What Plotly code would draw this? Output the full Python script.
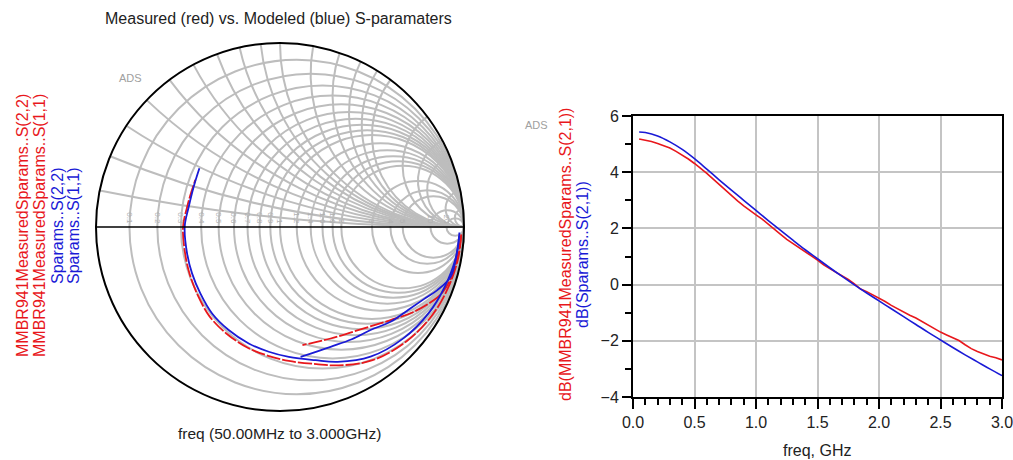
import numpy as np
import plotly.graph_objects as go

W, H = 1013, 460
FONT = "Liberation Sans, Arial, sans-serif"

# ---------------- Smith chart data (reflection coefficients, real / imag) ----------------
s11_model_re = [0.974, 0.955, 0.895, 0.808, 0.672, 0.492, 0.313, 0.193, 0.048, -0.061, -0.170,
                -0.279, -0.369, -0.433, -0.478, -0.505, -0.518, -0.496, -0.469, -0.438]
s11_model_im = [-0.049, -0.169, -0.326, -0.468, -0.604, -0.705, -0.733, -0.724, -0.706, -0.678, -0.633,
                -0.560, -0.470, -0.361, -0.252, -0.143, 0.002, 0.110, 0.219, 0.319]

s11_meas_re = [0.985, 0.968, 0.912, 0.826, 0.688, 0.503, 0.320, 0.197, 0.048, -0.064, -0.178,
               -0.290, -0.382, -0.446, -0.490, -0.515, -0.527, -0.505, -0.482, -0.460]
s11_meas_im = [-0.040, -0.172, -0.334, -0.481, -0.621, -0.724, -0.752, -0.745, -0.728, -0.700, -0.655,
               -0.580, -0.487, -0.373, -0.259, -0.148, 0.000, 0.108, 0.190, 0.256]

s22_model_re = [0.975, 0.964, 0.928, 0.855, 0.782, 0.700, 0.601, 0.492, 0.390, 0.275, 0.112]
s22_model_im = [-0.030, -0.125, -0.270, -0.343, -0.392, -0.448, -0.515, -0.560, -0.610, -0.651, -0.706]

s22_meas_re = [0.985, 0.968, 0.930, 0.884, 0.837, 0.728, 0.601, 0.456, 0.275, 0.122]
s22_meas_im = [-0.045, -0.150, -0.277, -0.354, -0.397, -0.461, -0.506, -0.551, -0.606, -0.642]

smith_ticks = [0.1, 0.2, 0.3, 0.4, 0.5, 0.6, 0.7, 0.8, 0.9, 1.0, 1.2, 1.4, 1.6, 1.8, 2.0,
               3.0, 4.0, 5.0, 10, 20]

# ---------------- S21 (dB) data ----------------
freq_meas = [0.05, 0.10, 0.15, 0.20, 0.25, 0.30, 0.35, 0.40, 0.45, 0.50,
             0.55, 0.60, 0.65, 0.70, 0.75, 0.80, 0.85, 0.90, 0.95, 1.00,
             1.05, 1.10, 1.15, 1.20, 1.25, 1.30, 1.35, 1.40, 1.45, 1.50,
             1.55, 1.60, 1.65, 1.70, 1.75, 1.80, 1.85, 1.90, 1.95, 2.00,
             2.05, 2.10, 2.15, 2.20, 2.25, 2.30, 2.35, 2.40, 2.45, 2.50,
             2.55, 2.60, 2.65, 2.70, 2.75, 2.80, 2.85, 2.90, 2.95, 3.00]
s21_meas_db = [5.18, 5.14, 5.09, 5.02, 4.95, 4.86, 4.74, 4.61, 4.47, 4.31,
               4.14, 3.96, 3.76, 3.56, 3.37, 3.16, 2.98, 2.80, 2.63, 2.48,
               2.33, 2.14, 1.98, 1.79, 1.61, 1.47, 1.30, 1.16, 1.02, 0.87,
               0.70, 0.57, 0.45, 0.33, 0.18, 0.03, -0.16, -0.25, -0.36, -0.47,
               -0.60, -0.74, -0.86, -0.97, -1.09, -1.19, -1.32, -1.45, -1.55, -1.69,
               -1.79, -1.90, -1.99, -2.14, -2.28, -2.38, -2.47, -2.55, -2.60, -2.68]

freq_model = [0.05, 0.1, 0.2, 0.3, 0.4, 0.5, 0.6, 0.7, 0.8, 0.9, 1.0,
              1.1, 1.2, 1.3, 1.4, 1.5, 1.6, 1.7, 1.8, 1.9, 2.0,
              2.1, 2.2, 2.3, 2.4, 2.5, 2.6, 2.7, 2.8, 2.9, 3.0]
s21_model_db = [5.43, 5.41, 5.29, 5.08, 4.81, 4.48, 4.11, 3.73, 3.36, 3.00, 2.64,
                2.28, 1.93, 1.58, 1.24, 0.92, 0.60, 0.29, -0.01, -0.30, -0.58,
                -0.86, -1.14, -1.42, -1.70, -1.97, -2.24, -2.50, -2.75, -3.00, -3.24]

RED = "#e8171c"
BLUE = "#1a1ad6"


def gamma_to_z(re, im):
    g = np.array(re) + 1j * np.array(im)
    z = (1 + g) / (1 - g)
    return z.real, z.imag


fig = go.Figure()

for re, im, col, dash in [
    (s11_meas_re, s11_meas_im, RED, "14px,2px"),
    (s22_meas_re, s22_meas_im, RED, "14px,2px"),
    (s11_model_re, s11_model_im, BLUE, "solid"),
    (s22_model_re, s22_model_im, BLUE, "solid"),
]:
    zr, zi = gamma_to_z(re, im)
    fig.add_trace(go.Scattersmith(real=zr, imag=zi, mode="lines",
                                  line=dict(color=col, width=1.8, dash=dash, shape="spline"),
                                  showlegend=False, hoverinfo="skip"))

fig.add_trace(go.Scatter(x=freq_meas, y=s21_meas_db, mode="lines",
                         line=dict(color=RED, width=1.6), showlegend=False,
                         xaxis="x", yaxis="y"))
fig.add_trace(go.Scatter(x=freq_model, y=s21_model_db, mode="lines",
                         line=dict(color=BLUE, width=1.6, shape="spline"), showlegend=False,
                         xaxis="x", yaxis="y"))


def px_x(p):
    return p / W


def px_y(p):
    return 1 - p / H


GRID = "#bdbdbd"
fig.update_layout(
    width=W, height=H,
    margin=dict(l=0, r=0, t=0, b=0, autoexpand=False),
    showlegend=False,
    paper_bgcolor="white",
    plot_bgcolor="white",
    font=dict(family=FONT, color="#222222"),
    smith=dict(
        domain=dict(x=[px_x(96), px_x(464)], y=[px_y(411), px_y(43)]),
        bgcolor="white",
        realaxis=dict(tickvals=smith_ticks, gridcolor=GRID, gridwidth=1.5,
                      linecolor="black", linewidth=1.5, showticklabels=True,
                      side="top", tickangle=90, ticks="",
                      tickfont=dict(size=8, color="#b0b0b0", family=FONT)),
        imaginaryaxis=dict(tickvals=smith_ticks, gridcolor=GRID, gridwidth=1.5,
                           linecolor="black", linewidth=2, showticklabels=False,
                           ticks=""),
    ),
    xaxis=dict(domain=[px_x(633), px_x(1002)], range=[0, 3], dtick=0.5, tick0=0,
               tickformat=".1f", showgrid=True, gridcolor="#c4c4c4", gridwidth=2,
               showline=True, linecolor="black", linewidth=2, mirror=True,
               ticks="outside", ticklen=10, tickwidth=1.5, tickcolor="black",
               minor=dict(dtick=0.1, ticks="outside", ticklen=6, tickwidth=1.5,
                          tickcolor="black", showgrid=False),
               tickfont=dict(size=16, family=FONT, color="#222222"),
               ticklabeloverflow="allow", automargin=False,
               zeroline=False, anchor="y"),
    yaxis=dict(domain=[px_y(397), px_y(116)], range=[-4, 6], dtick=2, tick0=0,
               showgrid=True, gridcolor="#c4c4c4", gridwidth=2,
               showline=True, linecolor="black", linewidth=2, mirror=True,
               ticks="outside", ticklen=9, tickwidth=1.5, tickcolor="black",
               minor=dict(dtick=1, ticks="outside", ticklen=6, tickwidth=1.5,
                          tickcolor="black", showgrid=False),
               tickfont=dict(size=16, family=FONT, color="#222222"),
               ticklabeloverflow="allow", automargin=False,
               zeroline=False, anchor="x"),
)

ann = []
ann.append(dict(x=px_x(278), y=px_y(19), text="Measured (red) vs. Modeled (blue) S-paramaters",
                font=dict(size=16, color="#222222", family=FONT)))
ann.append(dict(x=px_x(279), y=px_y(433), text="freq (50.00MHz to 3.000GHz)",
                font=dict(size=15.5, color="#222222", family=FONT)))
ann.append(dict(x=px_x(130), y=px_y(78), text="ADS",
                font=dict(size=11, color="#a0a0a0", family=FONT)))
ann.append(dict(x=px_x(536), y=px_y(125), text="ADS",
                font=dict(size=11, color="#a0a0a0", family=FONT)))
ann.append(dict(x=px_x(817), y=px_y(450), text="freq, GHz",
                font=dict(size=16, color="#222222", family=FONT)))
for xp, txt, col in [
    (22, "MMBR941MeasuredSparams..S(2,2)", RED),
    (39, "MMBR941MeasuredSparams..S(1,1)", RED),
    (57, "Sparams..S(2,2)", BLUE),
    (73, "Sparams..S(1,1)", BLUE),
]:
    ann.append(dict(x=px_x(xp), y=px_y(226), text=txt, textangle=-90,
                    font=dict(size=16, color=col, family=FONT)))
for xp, txt, col in [
    (565, "dB(MMBR941MeasuredSparams..S(2,1))", RED),
    (582, "dB(Sparams..S(2,1))", BLUE),
]:
    ann.append(dict(x=px_x(xp), y=px_y(255), text=txt, textangle=-90,
                    font=dict(size=16, color=col, family=FONT)))

for a in ann:
    a.update(xref="paper", yref="paper", showarrow=False, xanchor="center", yanchor="middle")
fig.update_layout(annotations=ann)

fig.write_html("out.html")
